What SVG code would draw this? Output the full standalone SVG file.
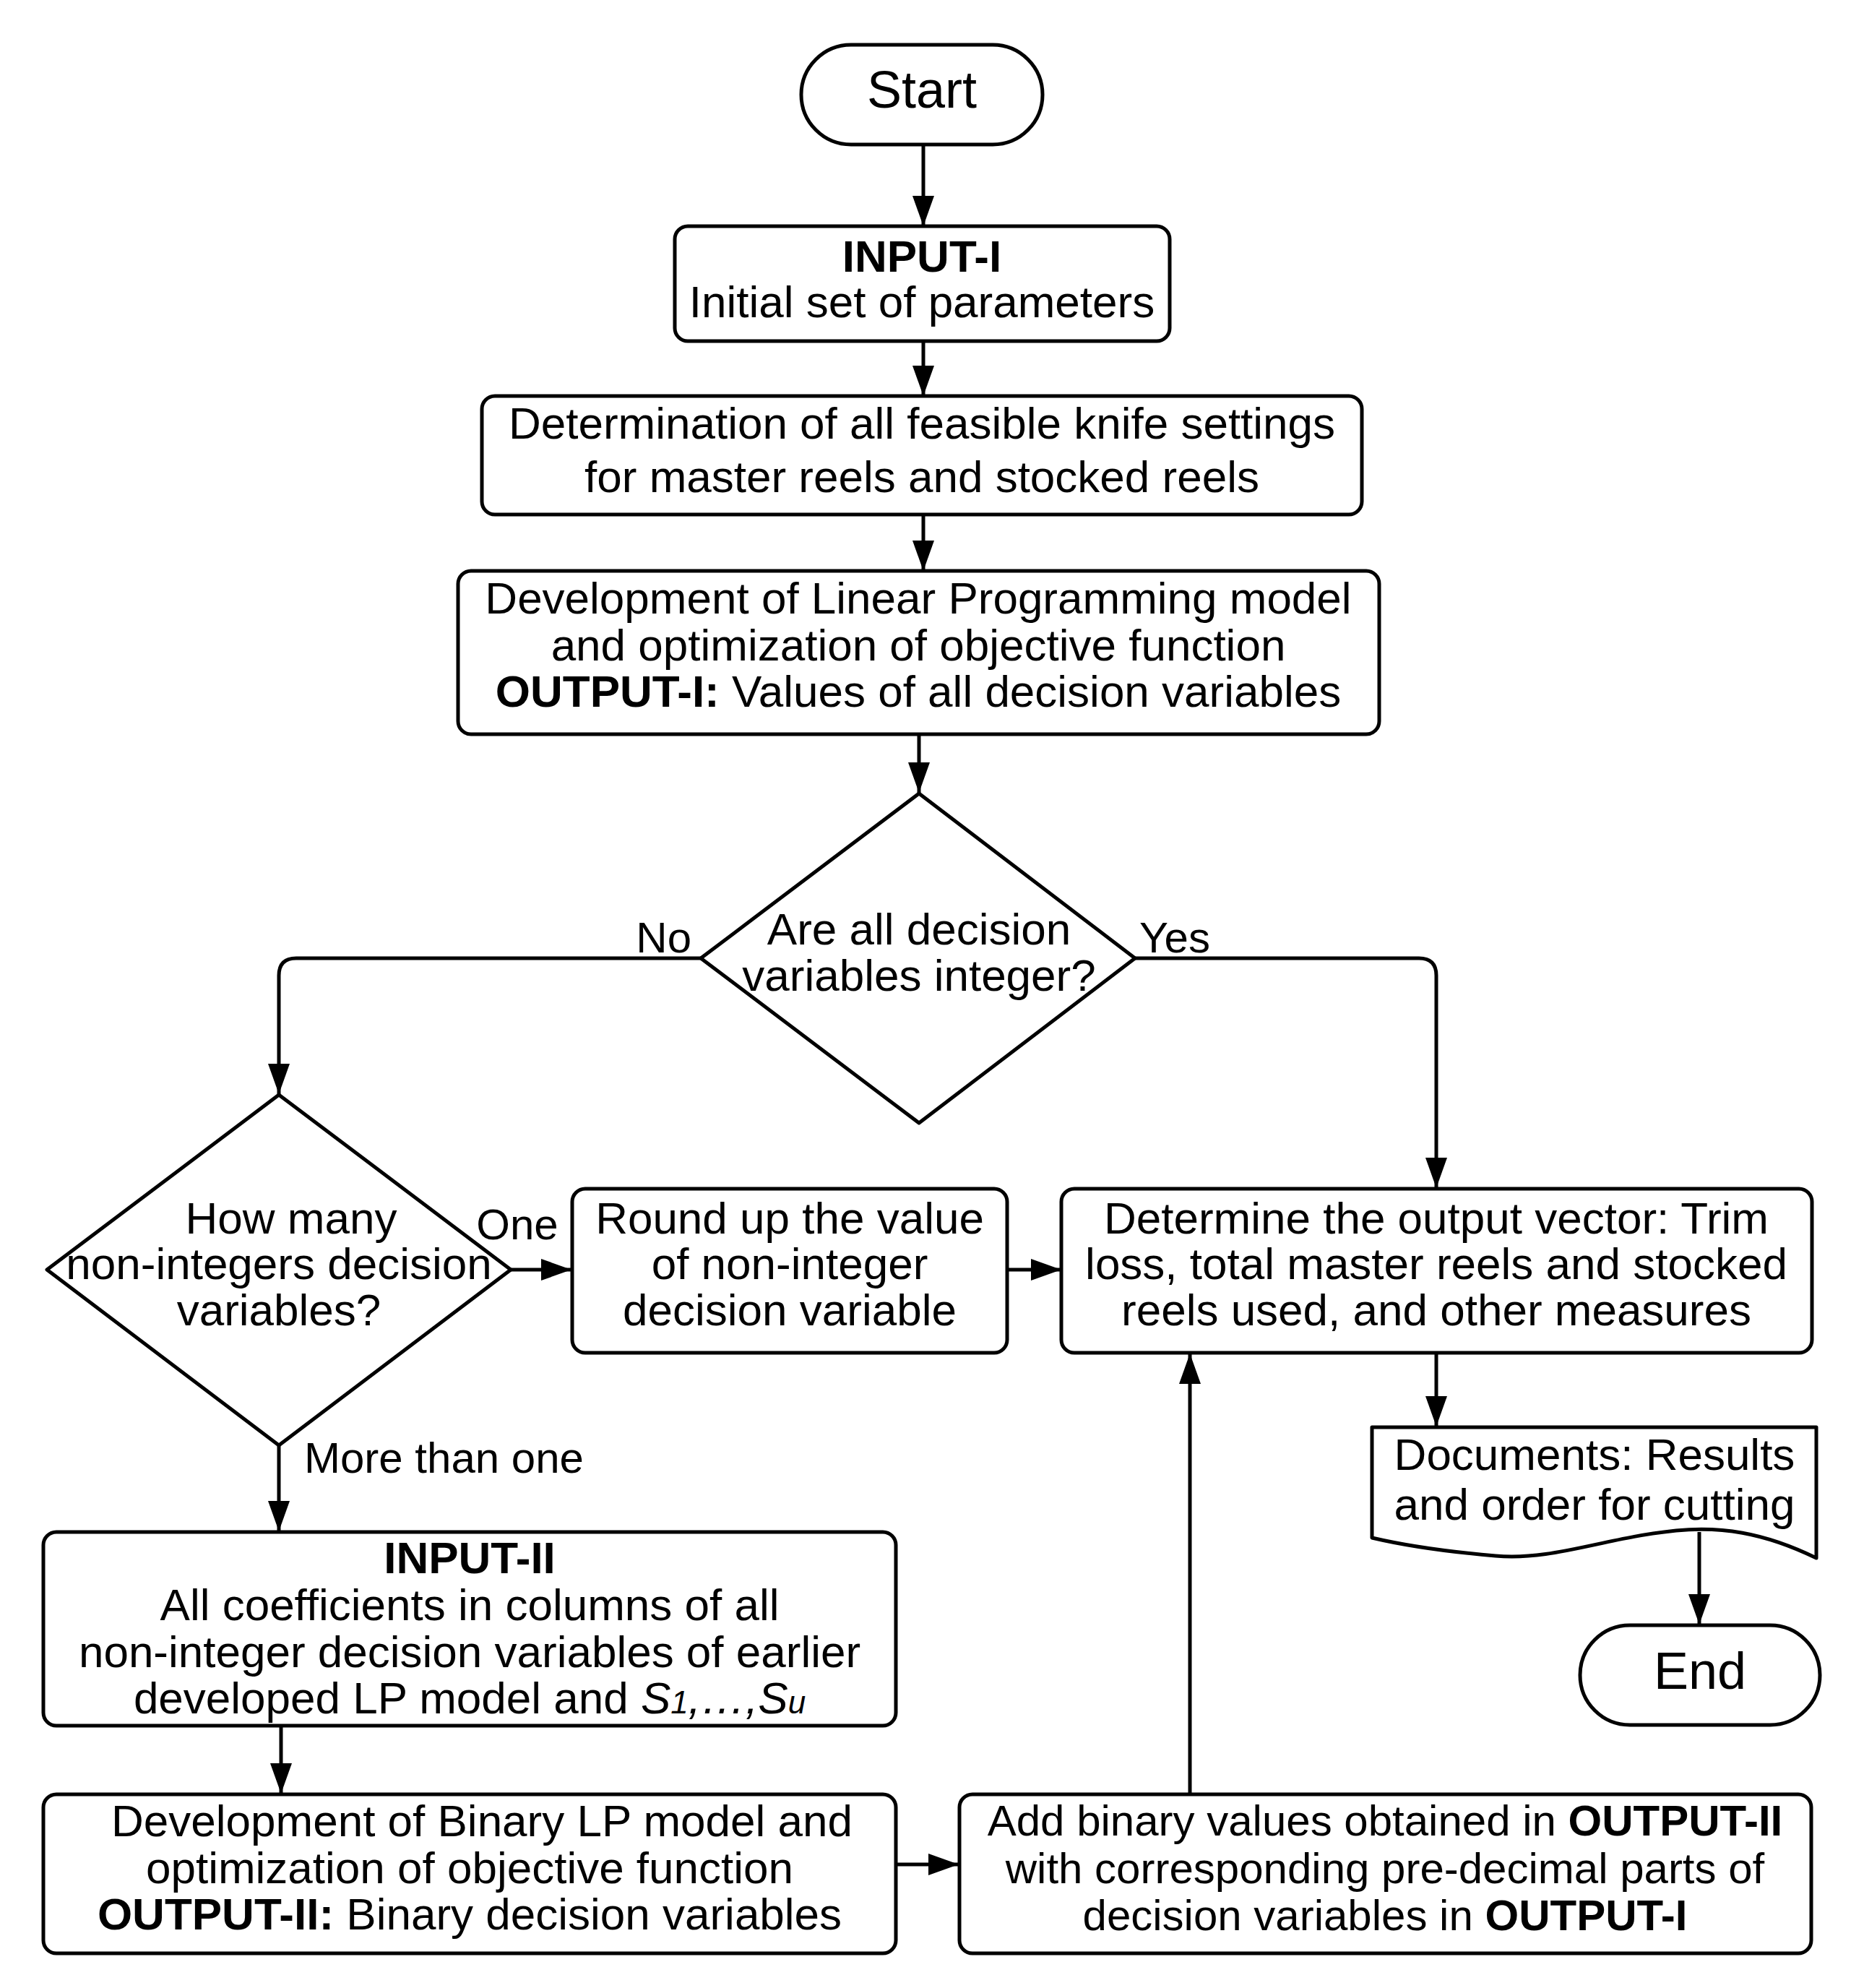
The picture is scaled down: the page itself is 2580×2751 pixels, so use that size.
<svg xmlns="http://www.w3.org/2000/svg" width="2580" height="2751" viewBox="0 0 2580 2751">
<defs>
<style>
.shape{fill:#fff;stroke:#000;stroke-width:5;stroke-linejoin:round}
.conn{fill:none;stroke:#000;stroke-width:5}
text{font-family:"Liberation Sans",Arial,sans-serif;font-size:62px;fill:#000;text-anchor:middle}
.b{font-weight:bold}
.lbl{font-size:60px}
.term{font-size:72px}
.it{font-style:italic}
.tight{font-size:60px}
</style>
<marker id="ah" markerUnits="userSpaceOnUse" markerWidth="44" markerHeight="32" refX="42" refY="15" orient="auto">
<path d="M0,0 L42,15 L0,30 Z" fill="#000"/>
</marker>
</defs>
<rect width="2580" height="2751" fill="#fff"/>

<g id="connectors">
<path class="conn" marker-end="url(#ah)" d="M1278 200 L1278 313"/>
<path class="conn" marker-end="url(#ah)" d="M1278 472 L1278 548"/>
<path class="conn" marker-end="url(#ah)" d="M1278 712 L1278 790"/>
<path class="conn" marker-end="url(#ah)" d="M1272 1016 L1272 1097"/>
<path class="conn" marker-end="url(#ah)" d="M970 1326 L410 1326 Q386 1326 386 1350 L386 1514"/>
<path class="conn" marker-end="url(#ah)" d="M1571 1326 L1964 1326 Q1988 1326 1988 1350 L1988 1644"/>
<path class="conn" marker-end="url(#ah)" d="M707 1757 L791 1757"/>
<path class="conn" marker-end="url(#ah)" d="M1394 1757 L1469 1757"/>
<path class="conn" marker-end="url(#ah)" d="M1988 1872 L1988 1974"/>
<path class="conn" marker-end="url(#ah)" d="M2352 2120 L2352 2248"/>
<path class="conn" marker-end="url(#ah)" d="M386 2000 L386 2119"/>
<path class="conn" marker-end="url(#ah)" d="M389 2388 L389 2482"/>
<path class="conn" marker-end="url(#ah)" d="M1240 2580 L1327 2580"/>
<path class="conn" marker-end="url(#ah)" d="M1647 2482 L1647 1873"/>
<text class="lbl" x="957" y="1318" style="text-anchor:end">No</text>
<text class="lbl" x="1577" y="1318" style="text-anchor:start">Yes</text>
<text class="lbl" x="716" y="1715">One</text>
<text class="lbl" x="421" y="2038" style="text-anchor:start">More than one</text>
</g>

<g id="start">
<rect class="shape" x="1109" y="62" width="334" height="138" rx="69" ry="69"/>
<text class="term" x="1276" y="149">Start</text>
</g>

<g id="input1">
<rect class="shape" x="934" y="313" width="685" height="159" rx="18"/>
<text class="b" x="1276" y="376">INPUT-I</text>
<text x="1276" y="439">Initial set of parameters</text>
</g>

<g id="knife">
<rect class="shape" x="667" y="548" width="1218" height="164" rx="18"/>
<text x="1276" y="607">Determination of all feasible knife settings</text>
<text x="1276" y="681">for master reels and stocked reels</text>
</g>

<g id="lpmodel">
<rect class="shape" x="634" y="790" width="1275" height="226" rx="18"/>
<text x="1271" y="849">Development of Linear Programming model</text>
<text x="1271" y="914">and optimization of objective function</text>
<text x="1271" y="978"><tspan class="b">OUTPUT-I:</tspan> Values of all decision variables</text>
</g>

<g id="decision1">
<polygon class="shape" points="1272,1098 1571,1326 1272,1554 970,1326"/>
<text x="1272" y="1307">Are all decision</text>
<text x="1272" y="1371">variables integer?</text>
</g>

<g id="decision2">
<polygon class="shape" points="386,1515 707,1757 386,2000 65,1757"/>
<text x="403" y="1707">How many</text>
<text x="386" y="1770">non-integers decision</text>
<text x="386" y="1834">variables?</text>
</g>

<g id="roundup">
<rect class="shape" x="792" y="1645" width="602" height="227" rx="18"/>
<text x="1093" y="1707">Round up the value</text>
<text x="1093" y="1770">of non-integer</text>
<text x="1093" y="1834">decision variable</text>
</g>

<g id="outputvector">
<rect class="shape" x="1469" y="1645" width="1039" height="227" rx="18"/>
<text x="1988" y="1707">Determine the output vector: Trim</text>
<text x="1988" y="1770">loss, total master reels and stocked</text>
<text x="1988" y="1834">reels used, and other measures</text>
</g>

<g id="documents">
<path class="shape" d="M1899 1975 H2514 V2156 C2440 2120 2380 2112 2320 2118 C2220 2128 2150 2160 2070 2153 C2000 2147 1950 2140 1899 2128 Z"/>
<text x="2207" y="2034">Documents: Results</text>
<text x="2207" y="2103">and order for cutting</text>
</g>

<g id="end">
<rect class="shape" x="2187" y="2249" width="332" height="138" rx="69" ry="69"/>
<text class="term" x="2353" y="2337">End</text>
</g>

<g id="input2">
<rect class="shape" x="60" y="2120" width="1180" height="268" rx="18"/>
<text class="b" x="650" y="2177">INPUT-II</text>
<text x="650" y="2242">All coefficients in columns of all</text>
<text x="650" y="2307">non-integer decision variables of earlier</text>
<text x="650" y="2371">developed LP model and <tspan class="it">S</tspan><tspan class="it" font-size="44">1</tspan><tspan class="it">,…,S</tspan><tspan class="it" font-size="44">u</tspan></text>
</g>

<g id="binarylp">
<rect class="shape" x="60" y="2483" width="1180" height="220" rx="18"/>
<text x="667" y="2541">Development of Binary LP model and</text>
<text x="650" y="2606">optimization of objective function</text>
<text x="650" y="2670"><tspan class="b">OUTPUT-II:</tspan> Binary decision variables</text>
</g>

<g id="addbinary">
<rect class="shape" x="1328" y="2483" width="1179" height="220" rx="18"/>
<text class="tight" x="1917" y="2540">Add binary values obtained in <tspan class="b">OUTPUT-II</tspan></text>
<text class="tight" x="1917" y="2606">with corresponding pre-decimal parts of</text>
<text class="tight" x="1917" y="2671">decision variables in <tspan class="b">OUTPUT-I</tspan></text>
</g>
</svg>
